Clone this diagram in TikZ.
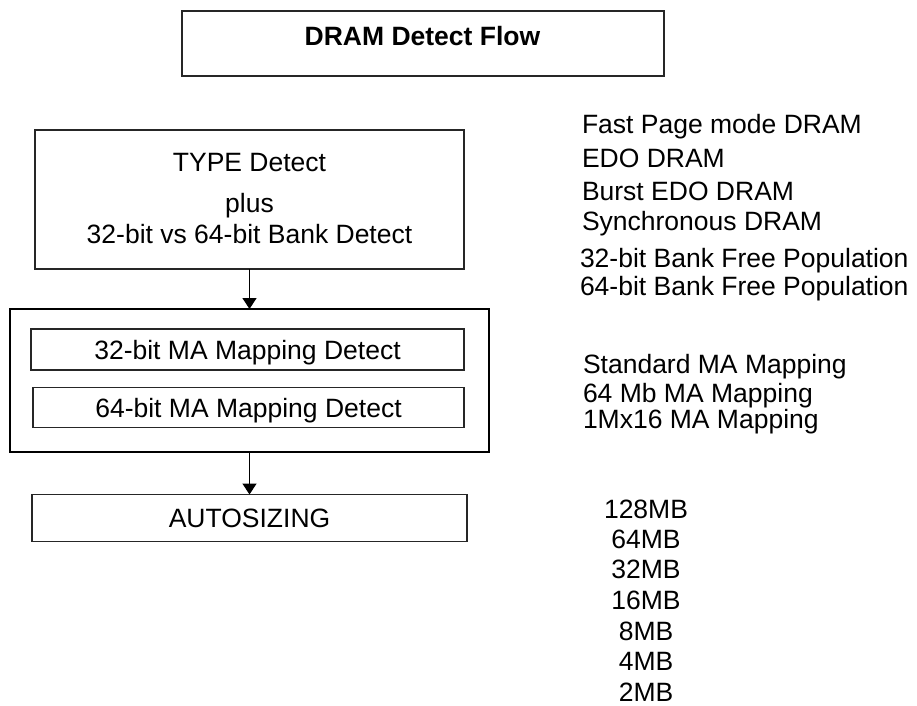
\documentclass[tikz,border=0pt]{standalone}
\usepackage{fontspec}
\setmainfont{Liberation Sans}
\usetikzlibrary{arrows.meta}
\begin{document}
\begin{tikzpicture}[x=1pt,y=-1pt,
  box/.style={draw=black!85,line width=1.2pt,inner sep=0pt,outer sep=0pt},
  thickbox/.style={draw=black,line width=2pt,inner sep=0pt,outer sep=0pt},
  txt/.style={inner sep=0pt,outer sep=0pt,font=\fontsize{26.5}{30}\selectfont},
  lbl/.style={txt,anchor=base west},
  mb/.style={txt,anchor=base},
  flow/.style={line width=1.3pt,-{Triangle[width=14pt,length=11pt]}}]
\useasboundingbox (0,0) rectangle (917,705);
% title
\node[box,minimum width=482,minimum height=65] (title) at (423,43.5) {};
\node[txt,anchor=base,font=\fontsize{26.5}{30}\selectfont\bfseries] (titletxt) at (422.5,45) {DRAM Detect Flow};
% type detect box
\node[box,minimum width=429,minimum height=139] (type) at (249.5,199.5) {};
\node[txt,anchor=base] (t1) at (249.5,171) {TYPE Detect};
\node[txt,anchor=base] (t2) at (249.5,212) {plus};
\node[txt,anchor=base] (t3) at (249.5,243) {32-bit vs 64-bit Bank Detect};
% outer mapping box
\node[thickbox,minimum width=479,minimum height=143] (outer) at (249.5,380.5) {};
\node[box,minimum width=433,minimum height=41,text height=19pt,text depth=0pt,txt] (m32) at (247.5,349.5) {32-bit MA Mapping Detect};
\node[box,minimum width=431,minimum height=40,text height=19pt,text depth=0pt,txt] (m64) at (248.5,407.5) {64-bit MA Mapping Detect};
% autosizing
\node[box,minimum width=435,minimum height=47,text height=19pt,text depth=0pt,txt] (auto) at (249.5,518) {AUTOSIZING};
% arrows
\draw[flow] (type.south) -- (outer.north);
\draw[flow] (outer.south) -- (auto.north);
% right texts
\node[lbl] (r1) at (582,133) {Fast Page mode DRAM};
\node[lbl] (r2) at (582,167) {EDO DRAM};
\node[lbl] (r3) at (582,200) {Burst EDO DRAM};
\node[lbl] (r4) at (582,230) {Synchronous DRAM};
\node[lbl] (r5) at (580,267) {32-bit Bank Free Population};
\node[lbl] (r6) at (580,295) {64-bit Bank Free Population};
\node[lbl] (r7) at (583,373) {Standard MA Mapping};
\node[lbl] (r8) at (583,402) {64 Mb MA Mapping};
\node[lbl] (r9) at (583,428) {1Mx16 MA Mapping};
\node[mb] (s1) at (646,518) {128MB};
\node[mb] (s2) at (646,548) {64MB};
\node[mb] (s3) at (646,578) {32MB};
\node[mb] (s4) at (646,609) {16MB};
\node[mb] (s5) at (646,640) {8MB};
\node[mb] (s6) at (646,670) {4MB};
\node[mb] (s7) at (646,701) {2MB};
\end{tikzpicture}
\end{document}
